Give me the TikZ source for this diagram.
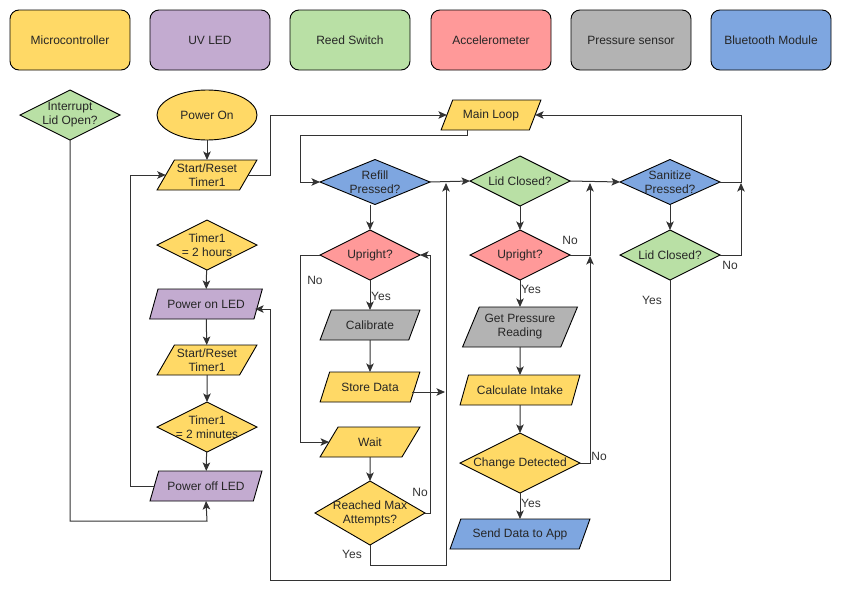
\documentclass[tikz,border=0pt]{standalone}
\usepackage{fontspec}
\setmainfont{Liberation Sans}
\usetikzlibrary{shapes.geometric,arrows.meta}
\definecolor{cyel}{HTML}{FFD966}
\definecolor{cpur}{HTML}{C3ABD0}
\definecolor{cgrn}{HTML}{B9E0A5}
\definecolor{cred}{HTML}{FF9999}
\definecolor{cgry}{HTML}{B3B3B3}
\definecolor{cblu}{HTML}{7EA6E0}
\begin{document}
\begin{tikzpicture}[x=1pt,y=-1pt,
  every node/.style={font=\fontsize{12}{14}\selectfont, text=black!85},
  base/.style={draw=black, line width=0.9pt, inner sep=0pt, outer sep=0pt},
  legend/.style={base, rounded corners=9pt, minimum width=120pt, minimum height=60pt, fill=#1},
  dec/.style={base, diamond, fill=#1},
  para/.style={base, inner sep=1pt, align=center, trapezium, trapezium left angle=56.3, trapezium right angle=123.7, trapezium stretches=true, fill=#1},
  term/.style={base, ellipse, fill=#1},
  conn/.style={draw=black!80, line width=1pt},
  arr/.style={conn, -{Stealth[length=8.5pt,width=7.5pt,inset=2pt]}},
  lbl/.style={inner sep=0pt, text=black!80},
]
\useasboundingbox (0,0) rectangle (842,600);
\fill[white] (0,0) rectangle (842,600);

% legend
\node[legend=cyel] (lg1) at (70,40) {Microcontroller};
\node[legend=cpur] (lg2) at (210,40) {UV LED};
\node[legend=cgrn] (lg3) at (350,40) {Reed Switch};
\node[legend=cred] (lg4) at (491,40) {Accelerometer};
\node[legend=cgry] (lg5) at (631,40) {Pressure sensor};
\node[legend=cblu] (lg6) at (771,40) {Bluetooth Module};

% left columns
\node[dec=cgrn, minimum width=100pt, minimum height=50pt, label={[align=center]center:Interrupt\\Lid Open?}] (intr) at (70,115) {};
\node[term=cyel, minimum width=100pt, minimum height=50pt] (po) at (207,115) {Power On};
\node[para=cyel, minimum width=100pt, minimum height=30pt] (sr1) at (207,175) {Start/Reset\\Timer1};
\node[dec=cyel, minimum width=100pt, minimum height=50pt, label={[align=center]center:Timer1\\= 2 hours}] (t2h) at (207,245) {};
\node[para=cpur, minimum width=113pt, minimum height=30pt] (pol) at (206,304) {Power on LED};
\node[para=cyel, minimum width=100pt, minimum height=30pt] (sr2) at (207,360) {Start/Reset\\Timer1};
\node[dec=cyel, minimum width=100pt, minimum height=50pt, label={[align=center]center:Timer1\\= 2 minutes}] (t2m) at (207,427) {};
\node[para=cpur, minimum width=113pt, minimum height=30pt] (poff) at (206,486) {Power off LED};

% main loop column
\node[para=cyel, minimum width=100pt, minimum height=30pt] (ml) at (491,115) {Main Loop};
\node[dec=cblu, minimum width=110pt, minimum height=45pt, label={[align=center]center:Refill\\Pressed?}] (refill) at (375,182) {};
\node[dec=cred, minimum width=100pt, minimum height=50pt, label={center:Upright?}] (up1) at (370,255) {};
\node[para=cgry, minimum width=100pt, minimum height=30pt] (cal) at (370,325) {Calibrate};
\node[para=cyel, minimum width=100pt, minimum height=30pt] (store) at (370,387) {Store Data};
\node[para=cyel, minimum width=100pt, minimum height=30pt] (wait) at (370,442) {Wait};
\node[dec=cyel, minimum width=110pt, minimum height=64pt, label={[align=center]center:Reached Max\\Attempts?}] (rma) at (370,513) {};

\node[dec=cgrn, minimum width=100pt, minimum height=50pt, label={center:Lid Closed?}] (lc1) at (520,181) {};
\node[dec=cred, minimum width=100pt, minimum height=50pt, label={center:Upright?}] (up2) at (520,255) {};
\node[para=cgry, trapezium left angle=61, trapezium right angle=119, minimum width=115pt, minimum height=40pt] (gp) at (520,327) {Get Pressure\\Reading};
\node[para=cyel, minimum width=120pt, minimum height=30pt] (ci) at (520,390) {Calculate Intake};
\node[dec=cyel, minimum width=120pt, minimum height=60pt, label={center:Change Detected}] (cd) at (520,463) {};
\node[para=cblu, minimum width=140pt, minimum height=30pt] (sd) at (520,534) {Send Data to App};

\node[dec=cblu, minimum width=100pt, minimum height=45pt, label={[align=center]center:Sanitize\\Pressed?}] (san) at (670,182) {};
\node[dec=cgrn, minimum width=100pt, minimum height=50pt, label={center:Lid Closed?}] (lc2) at (670,255) {};

% helper coordinates
\coordinate (xa) at (130,0);
\coordinate (xc) at (300,0);
\coordinate (xd) at (430,0);
\coordinate (xe) at (741,0);
\coordinate (e1) at (445,392);
\coordinate (e2) at (446,183);
\coordinate (e3) at (590,183);
\coordinate (e4) at (590,256);
\coordinate (e5) at (741,183);

% connectors, left
\draw[arr] (po) -- (sr1);
\draw[arr] (sr1.right side) -- (270,175) |- (ml.left side);
\draw[arr] (t2h) -- (pol);
\draw[arr] (pol) -- (sr2);
\draw[arr] (sr2) -- (t2m);
\draw[arr] (t2m) -- (poff);
\draw[arr] (poff.left side) -- (poff.left side -| xa) |- (sr1.left side);
\draw[arr] (intr.south) |- (207,521) -- (poff.south);

% main loop
\draw[arr] ([xshift=-24pt]ml.south) |- (300,135) |- (refill.west);
\draw[arr] (refill.south -| up1.north) -- (up1.north);
\draw[arr] (up1.west) -- (up1.west -| xc) |- (wait.left side);
\draw[arr] (up1) -- (cal);
\draw[arr] (cal) -- (store);
\draw[arr] ([shift={(-3pt,-5pt)}]store.right side) -- (e1);
\draw[arr] (wait) -- (rma);
\draw[arr] (rma.east) -- (rma.east -| xd) |- (up1.east);
\draw[arr] (rma.south) |- (446,565) -- (e2);
\draw[arr] (refill.east) -- (lc1.west);
\draw[arr] (lc1) -- (up2);
\draw[arr] (up2.east) -| (e3);
\draw[arr] (up2) -- (gp);
\draw[arr] (gp) -- (ci);
\draw[arr] (ci) -- (cd);
\draw[arr] (cd) -- (sd);
\draw[arr] (cd.east) -| (e4);
\draw[arr] (lc1.east) -- (san.west);
\draw[arr] (san) -- (lc2);
\draw[arr] (lc2.east) -| (e5);
\draw[arr] (san.east) -- (san.east -| xe) |- (ml.right side);
\draw[arr] (lc2.south) |- (270,580) |- ([shift={(-3pt,-5pt)}]pol.right side);

% branch labels
\node[lbl] (n1) at (315,280) {No};
\node[lbl] (y1) at (381,296) {Yes};
\node[lbl] (n2) at (420,492) {No};
\node[lbl] (y2) at (352,554) {Yes};
\node[lbl] (n3) at (570,240) {No};
\node[lbl] (y3) at (531,289) {Yes};
\node[lbl] (n4) at (599,456) {No};
\node[lbl] (y4) at (531,503) {Yes};
\node[lbl] (n5) at (730,265) {No};
\node[lbl] (y5) at (652,300) {Yes};
\end{tikzpicture}
\end{document}
